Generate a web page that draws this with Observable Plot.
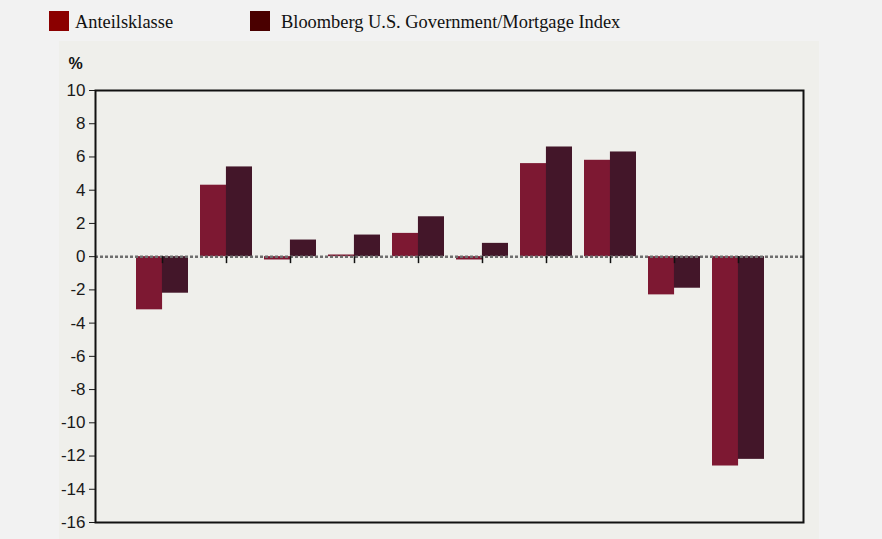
<!DOCTYPE html>
<html><head><meta charset="utf-8">
<script src="https://cdn.jsdelivr.net/npm/d3@7"></script>
<script src="https://cdn.jsdelivr.net/npm/@observablehq/plot@0.6"></script>
<style>
body{margin:0;background:#f2f2f2;width:882px;height:539px;position:relative;overflow:hidden}
.sw{position:absolute;top:11px;width:20px;height:20px}
.lt{position:absolute;top:12px;height:20px;line-height:20px;font-size:18.4px;font-family:"Liberation Serif","Times New Roman",serif;color:#111;white-space:nowrap}
#chart{position:absolute;left:59px;top:41px}
</style></head><body>
<div class="sw" style="left:49px;background:#8b0000"></div>
<div class="lt" style="left:75px">Anteilsklasse</div>
<div class="sw" style="left:250px;background:#4a0000"></div>
<div class="lt" style="left:281px">Bloomberg U.S. Government/Mortgage Index</div>
<div id="chart"></div>
<script>
const years = ["2013","2014","2015","2016","2017","2018","2019","2020","2021","2022"];
const anteilsklasse = [-3.2, 4.3, -0.2, 0.1, 1.4, -0.2, 5.6, 5.8, -2.3, -12.6];
const bloomberg = [-2.2, 5.4, 1.0, 1.3, 2.4, 0.8, 6.6, 6.3, -1.9, -12.2];
const yTicks = [-16,-14,-12,-10,-8,-6,-4,-2,0,2,4,6,8,10];

const data = years.map((y, i) => ({year: y, a: anteilsklasse[i], b: bloomberg[i]}));

const W = 760, H = 498, mL = 36, mR = 16, mT = 49, mB = 17;
const pIn = 0.19, pOut = 0.625;
const step = (W - mL - mR) / (years.length - pIn + 2 * pOut);
const bw = step * (1 - pIn);

const plot = Plot.plot({
  width: W, height: H,
  marginLeft: mL, marginRight: mR, marginTop: mT, marginBottom: mB,
  style: {background: "#efefeb", fontFamily: "'Liberation Sans Narrow','Arial Narrow','Liberation Sans',Arial,sans-serif", fontSize: "17px", color: "#1a1a1a", overflow: "visible"},
  x: {type: "band", domain: years, paddingInner: pIn, paddingOuter: pOut, align: 0.51, axis: null},
  y: {domain: [-16, 10], ticks: yTicks, tickSize: 6, tickPadding: 4, label: null, tickFormat: d => String(d)},
  marks: [
    Plot.barY(data, {x: "year", y: "a", fill: "#7d1832", insetRight: bw / 2, insetLeft: 0}),
    Plot.barY(data, {x: "year", y: "b", fill: "#431629", insetLeft: bw / 2, insetRight: 0}),
    Plot.ruleY([0], {stroke: "#6e6e6e", strokeWidth: 2.5, strokeDasharray: "3,2"}),
    Plot.ruleX(data, {x: "year", y1: 0, y2: -0.42, stroke: "#111", strokeWidth: 1.5}),
    Plot.frame({stroke: "#111", strokeWidth: 2}),
    Plot.text(["%"], {frameAnchor: "top-left", dx: -27, dy: -33, fontWeight: "bold", fontSize: 16, fill: "#111"})
  ]
});
document.getElementById("chart").appendChild(plot);
</script>
</body></html>
